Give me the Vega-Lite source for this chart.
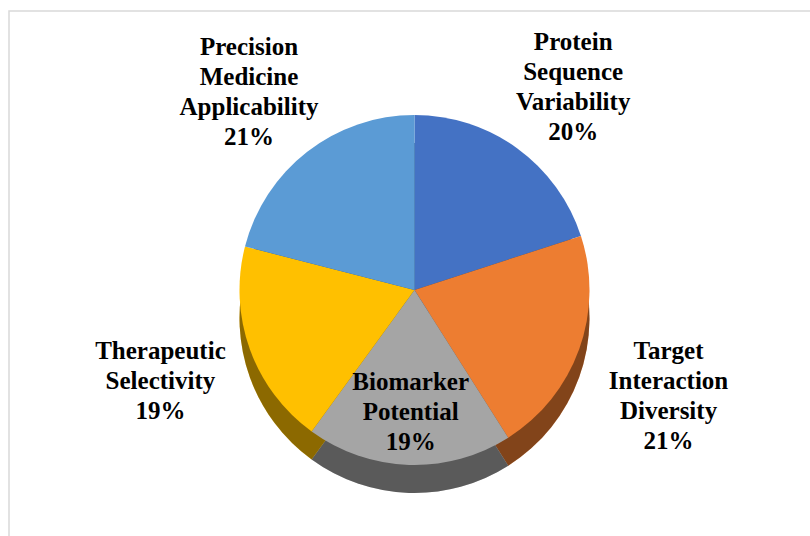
{
  "$schema": "https://vega.github.io/schema/vega-lite/v6.json",
  "width": 810,
  "height": 536,
  "autosize": {"type": "fit", "contains": "padding"},
  "padding": {"left": 9, "top": 11, "right": -10, "bottom": -33},
  "background": "white",
  "view": {"stroke": "#d9d9d9", "strokeWidth": 1.5, "fill": "white"},
  "data": {
    "values": [
      {"category": "Protein Sequence Variability", "value": 20},
      {"category": "Target Interaction Diversity", "value": 21},
      {"category": "Biomarker Potential", "value": 19},
      {"category": "Therapeutic Selectivity", "value": 19},
      {"category": "Precision Medicine Applicability", "value": 21}
    ]
  },
  "transform": [
    {"window": [{"op": "row_number", "as": "rank"}]},
    {"stack": "value", "groupby": [], "sort": [{"field": "rank", "order": "ascending"}], "as": ["t0", "t1"]},
    {"calculate": "(datum.t0 + datum.t1) / 2", "as": "mid"},
    {"calculate": "datum.category + ' ' + datum.value + '%'", "as": "label"}
  ],
  "layer": [
    {
      "mark": {"type": "arc", "radius": 175, "yOffset": 28},
      "encoding": {
        "theta": {"field": "t0", "type": "quantitative", "scale": {"domain": [0, 100]}},
        "theta2": {"field": "t1"},
        "color": {
          "field": "category", "type": "nominal", "legend": null,
          "scale": {
            "domain": ["Protein Sequence Variability", "Target Interaction Diversity", "Biomarker Potential", "Therapeutic Selectivity", "Precision Medicine Applicability"],
            "range": ["#4472C4", "#ED7D31", "#A5A5A5", "#FFC000", "#5B9BD5"]
          }
        }
      }
    },
    {
      "mark": {"type": "arc", "radius": 175, "yOffset": 28, "color": "black", "opacity": 0.45},
      "encoding": {
        "theta": {"field": "t0", "type": "quantitative", "scale": {"domain": [0, 100]}},
        "theta2": {"field": "t1"}
      }
    },
    {
      "mark": {"type": "arc", "radius": 175},
      "encoding": {
        "theta": {"field": "t0", "type": "quantitative", "scale": {"domain": [0, 100]}},
        "theta2": {"field": "t1"},
        "color": {"field": "category", "type": "nominal", "legend": null}
      }
    },
    {
      "transform": [{"filter": "datum.category !== 'Biomarker Potential'"}],
      "mark": {"type": "text", "font": "Liberation Serif", "fontWeight": "bold", "fontSize": 25, "lineBreak": " ", "lineHeight": 30, "dy": -30, "color": "black"},
      "encoding": {
        "theta": {"field": "mid", "type": "quantitative", "scale": {"domain": [0, 100]}},
        "radius": {"value": 270},
        "text": {"field": "label"}
      }
    },
    {
      "transform": [{"filter": "datum.category === 'Biomarker Potential'"}],
      "mark": {"type": "text", "font": "Liberation Serif", "fontWeight": "bold", "fontSize": 25, "lineBreak": " ", "lineHeight": 30, "dy": -30, "color": "black"},
      "encoding": {
        "theta": {"field": "mid", "type": "quantitative", "scale": {"domain": [0, 100]}},
        "radius": {"value": 122},
        "text": {"field": "label"}
      }
    }
  ]
}
